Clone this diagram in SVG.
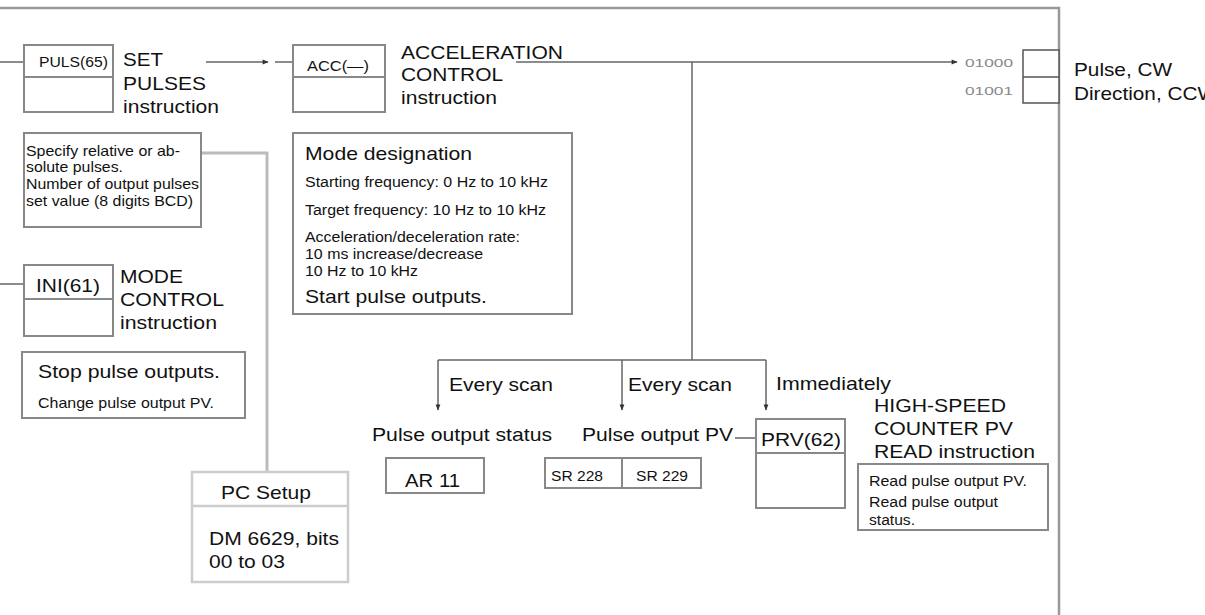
<svg xmlns="http://www.w3.org/2000/svg" width="1205" height="615" viewBox="0 0 1205 615">
<defs>
<style>
text{font-family:"Liberation Sans",Arial,sans-serif;fill:#111}
.box{fill:#fff;stroke:#888;stroke-width:2}
.ln{fill:none;stroke:#666;stroke-width:1.5}
.gl{fill:none;stroke:#bbb;stroke-width:3}
.fr{fill:none;stroke:#999;stroke-width:2.5}
.t17{font-size:19px}
.t12{font-size:14px}
.t11{font-size:14.5px}
.t15{font-size:18px}
.num{font-size:11px;fill:#888}
</style>
<marker id="ah" viewBox="0 0 10 10" refX="9" refY="5" markerWidth="8" markerHeight="6" orient="auto" markerUnits="userSpaceOnUse"><path d="M0,1 L10,5 L0,9 z" fill="#333"/></marker>
<marker id="ahg" viewBox="0 0 10 10" refX="9" refY="5" markerWidth="14" markerHeight="10" orient="auto" markerUnits="userSpaceOnUse"><path d="M0,1 L10,5 L0,9 z" fill="#bbb"/></marker>
</defs>
<g id="frame"><path class="fr" d="M0,8 H1059 V615"/></g>
<g id="connectors">
<path class="ln" d="M0,62 H24"/>
<path class="ln" d="M206,62 H268" marker-end="url(#ah)"/>
<path class="ln" d="M275,62 H293"/>
<path class="ln" d="M516,62 H957" marker-end="url(#ah)"/>
<path class="ln" d="M692,62 V360"/>
<path class="ln" d="M438,360 H766"/>
<path class="ln" d="M438,360 V410" marker-end="url(#ah)"/>
<path class="ln" d="M622,360 V410" marker-end="url(#ah)"/>
<path class="ln" d="M766,360 V410" marker-end="url(#ah)"/>
<path class="ln" d="M0,284 H24"/>
<path class="ln" d="M735,438 H756"/>
<path class="gl" d="M267,472 V153 H192" marker-end="url(#ahg)"/>
</g>
<g id="puls">
<rect class="box" x="24" y="45" width="89" height="67"/>
<path class="box" d="M24,77 H113"/>
<text x="39" y="67" style="font-size:15px" textLength="69" lengthAdjust="spacingAndGlyphs">PULS(65)</text>
<text class="t17" x="123" y="66" textLength="40" lengthAdjust="spacingAndGlyphs">SET</text>
<text class="t17" x="123" y="90" textLength="83" lengthAdjust="spacingAndGlyphs">PULSES</text>
<text class="t17" x="123" y="113" textLength="96" lengthAdjust="spacingAndGlyphs">instruction</text>
</g>
<g id="spec">
<rect class="box" x="24" y="133" width="177" height="94"/>
<text class="t11" x="26" y="156" textLength="154" lengthAdjust="spacingAndGlyphs">Specify relative or ab-</text>
<text class="t11" x="26" y="172" textLength="97" lengthAdjust="spacingAndGlyphs">solute pulses.</text>
<text class="t11" x="26" y="189" textLength="173" lengthAdjust="spacingAndGlyphs">Number of output pulses</text>
<text class="t11" x="26" y="206" textLength="167" lengthAdjust="spacingAndGlyphs">set value (8 digits BCD)</text>
</g>
<g id="acc">
<rect class="box" x="293" y="45" width="92" height="67"/>
<path class="box" d="M293,77 H385"/>
<text x="307" y="71" style="font-size:15px" textLength="62" lengthAdjust="spacingAndGlyphs">ACC(—)</text>
<text class="t17" x="401" y="59" textLength="162" lengthAdjust="spacingAndGlyphs">ACCELERATION</text>
<text class="t17" x="401" y="81" textLength="102" lengthAdjust="spacingAndGlyphs">CONTROL</text>
<text class="t17" x="401" y="104" textLength="96" lengthAdjust="spacingAndGlyphs">instruction</text>
</g>
<g id="mode">
<rect class="box" x="293" y="133" width="279" height="181"/>
<text class="t17" x="305" y="160" textLength="167" lengthAdjust="spacingAndGlyphs">Mode designation</text>
<text class="t12" x="305" y="187" textLength="243" lengthAdjust="spacingAndGlyphs">Starting frequency: 0 Hz to 10 kHz</text>
<text class="t12" x="305" y="215" textLength="241" lengthAdjust="spacingAndGlyphs">Target frequency: 10 Hz to 10 kHz</text>
<text class="t12" x="305" y="242" textLength="215" lengthAdjust="spacingAndGlyphs">Acceleration/deceleration rate:</text>
<text class="t12" x="305" y="259" textLength="178" lengthAdjust="spacingAndGlyphs">10 ms increase/decrease</text>
<text class="t12" x="305" y="276" textLength="113" lengthAdjust="spacingAndGlyphs">10 Hz to 10 kHz</text>
<text class="t17" x="305" y="303" textLength="182" lengthAdjust="spacingAndGlyphs">Start pulse outputs.</text>
</g>
<g id="outputs">
<rect class="box" x="1023" y="50" width="36" height="53" style="stroke:#555;stroke-width:1.5"/>
<path d="M1023,77 H1059" style="stroke:#555;stroke-width:1.5"/>
<text class="num" x="965" y="67" textLength="48" lengthAdjust="spacingAndGlyphs">01000</text>
<text class="num" x="965" y="95" textLength="48" lengthAdjust="spacingAndGlyphs">01001</text>
<text class="t17" x="1074" y="76" textLength="98" lengthAdjust="spacingAndGlyphs">Pulse, CW</text>
<text class="t17" x="1074" y="100" textLength="143" lengthAdjust="spacingAndGlyphs">Direction, CCW</text>
</g>
<g id="ini">
<rect class="box" x="24" y="265" width="89" height="71"/>
<path class="box" d="M24,299 H113"/>
<text class="t17" x="36" y="292" textLength="64" lengthAdjust="spacingAndGlyphs">INI(61)</text>
<text class="t17" x="120" y="283" textLength="63" lengthAdjust="spacingAndGlyphs">MODE</text>
<text class="t17" x="120" y="306" textLength="104" lengthAdjust="spacingAndGlyphs">CONTROL</text>
<text class="t17" x="120" y="329" textLength="97" lengthAdjust="spacingAndGlyphs">instruction</text>
</g>
<g id="stop">
<rect class="box" x="22" y="352" width="223" height="66"/>
<text class="t17" x="38" y="378" textLength="182" lengthAdjust="spacingAndGlyphs">Stop pulse outputs.</text>
<text class="t11" x="38" y="408" textLength="176" lengthAdjust="spacingAndGlyphs">Change pulse output PV.</text>
</g>
<g id="labels">
<text class="t17" x="449" y="391" textLength="104" lengthAdjust="spacingAndGlyphs">Every scan</text>
<text class="t17" x="628" y="391" textLength="104" lengthAdjust="spacingAndGlyphs">Every scan</text>
<text class="t17" x="776" y="390" textLength="115" lengthAdjust="spacingAndGlyphs">Immediately</text>
<text class="t17" x="372" y="441" textLength="180" lengthAdjust="spacingAndGlyphs">Pulse output status</text>
<text class="t17" x="582" y="441" textLength="151" lengthAdjust="spacingAndGlyphs">Pulse output PV</text>
</g>
<g id="ar11">
<rect class="box" x="386" y="458" width="98" height="35"/>
<text class="t17" x="405" y="487" textLength="55" lengthAdjust="spacingAndGlyphs">AR 11</text>
</g>
<g id="sr">
<rect class="box" x="545" y="458" width="156" height="30"/>
<path class="box" d="M622,458 V488"/>
<text class="t12" x="551" y="481" textLength="52" lengthAdjust="spacingAndGlyphs">SR 228</text>
<text class="t12" x="636" y="481" textLength="52" lengthAdjust="spacingAndGlyphs">SR 229</text>
</g>
<g id="prv">
<rect class="box" x="756" y="419" width="89" height="89"/>
<path class="box" d="M756,453 H845"/>
<text class="t17" x="761" y="446" textLength="80" lengthAdjust="spacingAndGlyphs">PRV(62)</text>
<text class="t17" x="874" y="412" textLength="132" lengthAdjust="spacingAndGlyphs">HIGH-SPEED</text>
<text class="t17" x="874" y="435" textLength="139" lengthAdjust="spacingAndGlyphs">COUNTER PV</text>
<text class="t17" x="874" y="458" textLength="161" lengthAdjust="spacingAndGlyphs">READ instruction</text>
</g>
<g id="read">
<rect class="box" x="858" y="464" width="190" height="66"/>
<text class="t12" x="869" y="486" textLength="158" lengthAdjust="spacingAndGlyphs">Read pulse output PV.</text>
<text class="t12" x="869" y="507" textLength="129" lengthAdjust="spacingAndGlyphs">Read pulse output</text>
<text class="t12" x="869" y="525" textLength="46" lengthAdjust="spacingAndGlyphs">status.</text>
</g>
<g id="pcsetup">
<rect class="box" x="192" y="472" width="156" height="110" style="stroke:#ccc;stroke-width:2.5"/>
<path d="M192,506 H348" style="stroke:#ccc;stroke-width:2.5"/>
<text class="t17" x="221" y="499" textLength="90" lengthAdjust="spacingAndGlyphs">PC Setup</text>
<text class="t17" x="209" y="545" textLength="130" lengthAdjust="spacingAndGlyphs">DM 6629, bits</text>
<text class="t17" x="209" y="568" textLength="76" lengthAdjust="spacingAndGlyphs">00 to 03</text>
</g>
</svg>
